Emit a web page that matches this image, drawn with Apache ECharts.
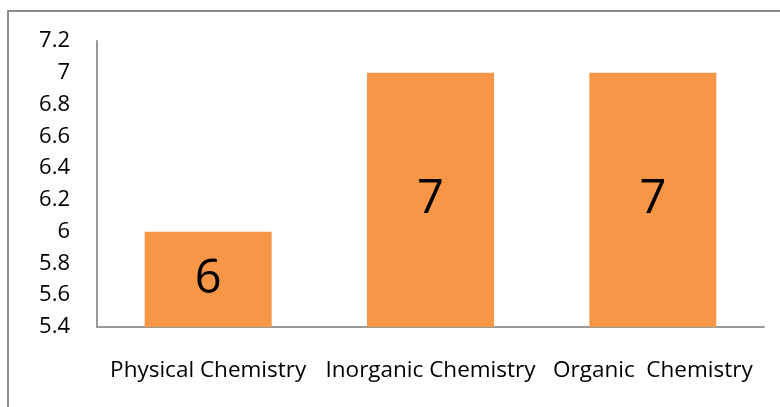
<!DOCTYPE html>
<html>
<head>
<meta charset="utf-8">
<script src="https://cdn.jsdelivr.net/npm/echarts@6/dist/echarts.min.js"></script>
<style>
  html, body { margin: 0; padding: 0; background: #fff; }
  #chart { width: 780px; height: 407px; }
</style>
</head>
<body>
<div id="chart"></div>
<script>
// Data
const categories = ['Physical Chemistry', 'Inorganic Chemistry', 'Organic  Chemistry'];
const scores = [6, 7, 7];

const yMin = 5.4;
const yMax = 7.2;
const yStep = 0.2;

const myChart = echarts.init(document.getElementById('chart'));

const font = '"Open Sans", Lato, sans-serif';

let option = {
  backgroundColor: '#fff',
  animation: false,
  // outer frame, cropped at the right and bottom like the reference
  graphic: [{
    type: 'rect',
    shape: { x: 8, y: 11, width: 800, height: 420 },
    style: { fill: 'none', stroke: '#8c8c8c', lineWidth: 2 },
    silent: true
  }],
  grid: { left: 97, right: 16, top: 41, bottom: 80 },
  xAxis: {
    type: 'category',
    data: categories,
    axisLine: { lineStyle: { color: '#999', width: 2 } },
    axisTick: { show: false },
    axisLabel: {
      color: '#000',
      fontSize: 22.5,
      fontFamily: font,
      margin: 32,
      interval: 0,
      hideOverlap: false
    }
  },
  yAxis: {
    type: 'value',
    min: yMin,
    max: yMax,
    interval: yStep,
    axisLine: { show: true, lineStyle: { color: '#999', width: 2 } },
    axisTick: { show: false },
    splitLine: { show: false },
    axisLabel: {
      color: '#000',
      fontSize: 22,
      fontFamily: font,
      margin: 27,
      formatter: v => String(+v.toFixed(1))
    }
  },
  series: [{
    type: 'bar',
    data: scores,
    barWidth: 127,
    itemStyle: { color: '#F79646' },
    label: {
      show: true,
      position: 'inside',
      color: '#000',
      fontSize: 47,
      fontFamily: font
    }
  }]
};
myChart.setOption(option);
</script>
</body>
</html>
